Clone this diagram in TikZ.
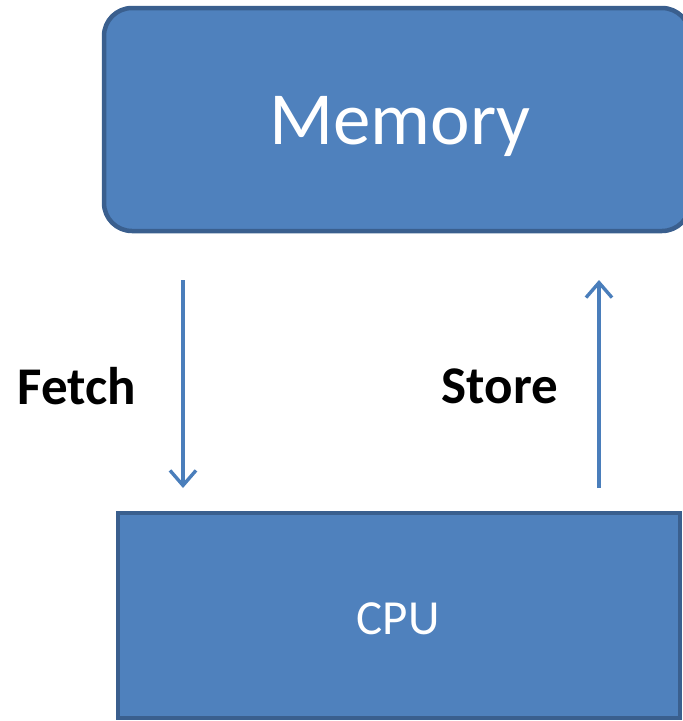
\documentclass[tikz,border=0pt]{standalone}
\usepackage{fontspec}
\setmainfont{Carlito}
\usetikzlibrary{arrows.meta}
\definecolor{boxfill}{HTML}{4F81BD}
\definecolor{boxline}{HTML}{3A5F8E}
\definecolor{arrowcol}{HTML}{4A7EBB}
\tikzset{
  unitbox/.style={fill=boxfill, draw=boxline, line width=4.5pt},
  flow/.style={draw=arrowcol, line width=3.4pt, -{Straight Barb[length=15pt,width=26pt,line width=3.4pt]}},
  lbl/.style={font=\bfseries\fontsize{53}{64}\selectfont, text=black, inner sep=0pt}
}
\begin{document}
\begin{tikzpicture}[x=1pt,y=-1pt]
  \useasboundingbox (0,0) rectangle (683,721);
  \clip (0,0) rectangle (683,721);
  % memory unit
  \draw[unitbox, rounded corners=28pt] (104,8) rectangle (690,231);
  \node[text=white, font=\fontsize{75}{90}\selectfont, inner sep=0pt] (mem) at (400,126) {Memory};
  % processor
  \draw[unitbox] (118,513) rectangle (680,718);
  \node[text=white, font=\fontsize{49}{59}\selectfont, inner sep=0pt] (cpu) at (398,619) {CPU};
  % transfer paths
  \coordinate (ftop) at (183,280);
  \coordinate (fbot) at (183,488);
  \coordinate (sbot) at (599,488);
  \coordinate (stop) at (599,280);
  \draw[flow] (ftop) -- (fbot);
  \draw[flow] (sbot) -- (stop);
  \node[lbl] (fetch) at (77,386) {Fetch};
  \node[lbl] (store) at (500,386) {Store};
\end{tikzpicture}
\end{document}
